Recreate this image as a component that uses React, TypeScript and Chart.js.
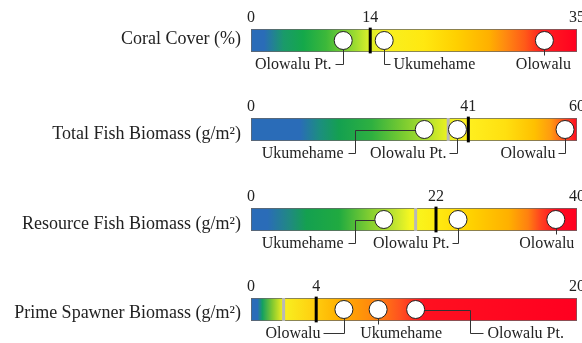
import React, { useEffect, useRef } from 'react';
import { Chart, registerables } from 'chart.js';

Chart.register(...registerables);

// ---------- data ----------
const rowLabels = [
  'Coral Cover (%)',
  'Total Fish Biomass (g/m²)',
  'Resource Fish Biomass (g/m²)',
  'Prime Spawner Biomass (g/m²)',
];
const scaleMax = [35, 60, 40, 20];
const markerValues = [12.8, 40, 22.7, 4];
const markerTickLabels = ['14', '41', '22', '4'];
const grayMarkerValues: (number | null)[] = [null, 36.3, 20.2, 2];

const coralSites = ['Olowalu Pt.', 'Ukumehame', 'Olowalu'];
const coralValues = [9.9, 14.3, 31.5];
const totalFishSites = ['Ukumehame', 'Olowalu Pt.', 'Olowalu'];
const totalFishValues = [31.9, 38, 57.8];
const resourceFishSites = ['Ukumehame', 'Olowalu Pt.', 'Olowalu'];
const resourceFishValues = [16.3, 25.4, 37.4];
const spawnerSites = ['Olowalu', 'Ukumehame', 'Olowalu Pt.'];
const spawnerValues = [5.7, 7.8, 10.1];

const rowSites = [coralSites, totalFishSites, resourceFishSites, spawnerSites];
const rowValues = [coralValues, totalFishValues, resourceFishValues, spawnerValues];

// ---------- styles / layout ----------
const SERIF = '"Liberation Serif", "Times New Roman", serif';
const rowTops = [0, 89, 179, 269];
const CANVAS_W = 582;
const CANVAS_H = 74;

const gradientStops: [number, string][][] = [
  [[0, '#2a6cb8'], [0.04, '#2a6cb8'], [0.1, '#1a9a6a'], [0.16, '#14a84a'], [0.23, '#3cb83a'], [0.32, '#9edc30'], [0.36, '#d8ee2a'], [0.41, '#f8f020'], [0.53, '#ffe810'], [0.63, '#ffd000'], [0.73, '#ffb000'], [0.78, '#ff8a10'], [0.84, '#ff5a18'], [0.89, '#ff2020'], [1, '#ff0020']],
  [[0, '#2a6cb8'], [0.15, '#2a6cb8'], [0.21, '#1c8e80'], [0.27, '#14a050'], [0.37, '#2eb040'], [0.47, '#7ccc30'], [0.54, '#b0e030'], [0.6, '#e8f020'], [0.66, '#fff020'], [0.78, '#ffe010'], [0.87, '#ffc000'], [0.92, '#ff9a10'], [0.96, '#ff5020'], [1, '#ff0a20']],
  [[0, '#2a6cb8'], [0.05, '#2a6cb8'], [0.12, '#208a80'], [0.17, '#14a050'], [0.27, '#20aa40'], [0.37, '#88d030'], [0.44, '#c0e430'], [0.49, '#f8f820'], [0.58, '#ffe810'], [0.68, '#ffd000'], [0.79, '#ffb000'], [0.85, '#ff8010'], [0.89, '#ff4020'], [0.94, '#ff0a20'], [1, '#ff0020']],
  [[0, '#2a6cb8'], [0.02, '#2a6cb8'], [0.035, '#14a060'], [0.065, '#80c830'], [0.1, '#f8f020'], [0.19, '#ffd010'], [0.27, '#ffb000'], [0.39, '#ff8010'], [0.46, '#ff5020'], [0.53, '#ff1020'], [1, '#ff0020']],
];

type Leader = { kind: 'path'; ex: number; hx: number; gap: number } | { kind: 'below'; tx: number };
const leaderLayouts: Leader[][] = [
  [{ kind: 'path', ex: 0, hx: -8, gap: 4 }, { kind: 'path', ex: 0, hx: 6, gap: 3 }, { kind: 'below', tx: -1 }],
  [{ kind: 'path', ex: -69, hx: -7, gap: 5 }, { kind: 'path', ex: 0, hx: -8, gap: 3 }, { kind: 'path', ex: 0, hx: -7, gap: 3 }],
  [{ kind: 'path', ex: -29, hx: -7, gap: 5 }, { kind: 'path', ex: 0, hx: -6, gap: 3 }, { kind: 'below', tx: -9 }],
  [{ kind: 'path', ex: 0, hx: -21, gap: 3 }, { kind: 'below', tx: 23 }, { kind: 'path', ex: 54, hx: 13, gap: 4 }],
];
const labelOffsets = [-1, 5, 5, 4];
const POINT_R = 9;

function leaderPlugin(row: number) {
  return {
    id: 'leaders' + row,
    afterDatasetsDraw(chart: any) {
      const ctx: CanvasRenderingContext2D = chart.ctx;
      const xs = chart.scales.x;
      const y2 = chart.scales.y2;
      const cy = y2.getPixelForValue(0.5);
      const ly = chart.chartArea.bottom + 11.5;
      ctx.save();
      ctx.strokeStyle = '#333';
      ctx.lineWidth = 1;
      ctx.fillStyle = '#222';
      ctx.font = '16px ' + SERIF;
      ctx.textBaseline = 'middle';
      rowSites[row].forEach((name, k) => {
        const cx = xs.getPixelForValue(rowValues[row][k]);
        const spec = leaderLayouts[row][k];
        ctx.beginPath();
        if (spec.kind === 'below') {
          const x = Math.round(cx) + 0.5;
          ctx.moveTo(x, cy + POINT_R);
          ctx.lineTo(x, ly - 8);
          ctx.stroke();
          ctx.textAlign = 'center';
          ctx.fillText(name, cx + spec.tx, ly + 1);
          return;
        }
        let endX: number;
        const hy = Math.round(ly) + 0.5;
        if (spec.ex === 0) {
          const x = Math.round(cx) + 0.5;
          ctx.moveTo(x, cy + POINT_R);
          ctx.lineTo(x, hy);
          endX = x + spec.hx;
          ctx.lineTo(endX, hy);
        } else {
          const sign = Math.sign(spec.ex);
          const ey = Math.round(cy) + 0.5;
          const ex = Math.round(cx + spec.ex) + 0.5;
          ctx.moveTo(cx + sign * POINT_R, ey);
          ctx.lineTo(ex, ey);
          ctx.lineTo(ex, hy);
          endX = ex + spec.hx;
          ctx.lineTo(endX, hy);
        }
        ctx.stroke();
        if (spec.hx < 0) {
          ctx.textAlign = 'right';
          ctx.fillText(name, endX - spec.gap, ly + 1);
        } else {
          ctx.textAlign = 'left';
          ctx.fillText(name, endX + spec.gap, ly + 1);
        }
      });
      ctx.restore();
    },
  };
}

function buildConfig(row: number): any {
  const max = scaleMax[row];
  const mean = markerValues[row];
  const gray = grayMarkerValues[row];
  const datasets: any[] = [
    {
      type: 'scatter',
      data: rowValues[row].map((v) => ({ x: v, y: 0.5 })),
      xAxisID: 'x',
      yAxisID: 'y2',
      pointRadius: POINT_R,
      pointHoverRadius: POINT_R,
      pointBackgroundColor: '#ffffff',
      pointBorderColor: '#222',
      pointBorderWidth: 1,
      clip: false,
      order: 1,
    },
    {
      type: 'line',
      data: [{ x: mean, y: -0.06 }, { x: mean, y: 1.06 }],
      xAxisID: 'x',
      yAxisID: 'y2',
      borderColor: '#000',
      borderWidth: 3,
      pointRadius: 0,
      clip: false,
      order: 2,
    },
  ];
  if (gray !== null) {
    datasets.push({
      type: 'line',
      data: [{ x: gray, y: 0 }, { x: gray, y: 1 }],
      xAxisID: 'x',
      yAxisID: 'y2',
      borderColor: '#b8b8b8',
      borderWidth: 3,
      pointRadius: 0,
      order: 2,
    });
  }
  datasets.push({
    type: 'bar',
    indexAxis: 'y',
    data: [[0, max]],
    xAxisID: 'x',
    yAxisID: 'y',
    backgroundColor: (c: any) => {
      const area = c.chart.chartArea;
      if (!area) return '#ccc';
      const g = c.chart.ctx.createLinearGradient(area.left, 0, area.right, 0);
      gradientStops[row].forEach(([p, col]) => g.addColorStop(p, col));
      return g;
    },
    borderColor: '#666',
    borderWidth: 1,
    borderSkipped: false,
    barPercentage: 1,
    categoryPercentage: 1,
    order: 3,
  });

  return {
    type: 'bar',
    data: { labels: [rowLabels[row]], datasets },
    options: {
      responsive: false,
      animation: false,
      events: [],
      layout: { autoPadding: false, padding: { left: 0, right: 5, top: 0, bottom: 22 } },
      plugins: { legend: { display: false }, tooltip: { enabled: false } },
      scales: {
        x: {
          type: 'linear',
          position: 'top',
          min: 0,
          max,
          offset: false,
          grid: { display: false, drawTicks: false, offset: false },
          border: { display: false },
          ticks: {
            font: { family: SERIF, size: 16 },
            color: '#222',
            padding: 2,
            maxRotation: 0,
            minRotation: 0,
            autoSkip: false,
            callback: (_v: any, i: number) => ['0', markerTickLabels[row], String(max)][i],
          },
          afterBuildTicks: (s: any) => {
            s.ticks = [0, mean, max].map((v) => ({ value: v }));
          },
          afterFit: (s: any) => {
            s.height = 29;
            s.paddingLeft = 0;
            s.paddingRight = 0;
          },
        },
        y: {
          type: 'category',
          position: 'left',
          offset: true,
          grid: { display: false, drawTicks: false },
          border: { display: false },
          ticks: {
            font: { family: SERIF, size: 18 },
            color: '#222',
            padding: 10,
            labelOffset: labelOffsets[row],
            autoSkip: false,
          },
          afterFit: (s: any) => {
            s.width = 251;
            s.paddingTop = 0;
            s.paddingBottom = 0;
          },
        },
        y2: { type: 'linear', display: false, min: 0, max: 1 },
      },
    },
    plugins: [leaderPlugin(row)],
  };
}

function GradientRow({ row }: { row: number }) {
  const ref = useRef<HTMLCanvasElement>(null);
  useEffect(() => {
    const chart = new Chart(ref.current as HTMLCanvasElement, buildConfig(row));
    return () => chart.destroy();
  }, [row]);
  return (
    <canvas
      ref={ref}
      width={CANVAS_W}
      height={CANVAS_H}
      style={{ position: 'absolute', left: 0, top: rowTops[row], width: CANVAS_W, height: CANVAS_H }}
    />
  );
}

export default function App() {
  useEffect(() => {
    document.body.style.margin = '0';
  }, []);
  return (
    <div
      style={{
        position: 'fixed',
        left: 0,
        top: 0,
        width: CANVAS_W,
        height: 343,
        overflow: 'hidden',
        background: '#fff',
      }}
    >
      {rowLabels.map((_, i) => (
        <GradientRow key={i} row={i} />
      ))}
    </div>
  );
}
